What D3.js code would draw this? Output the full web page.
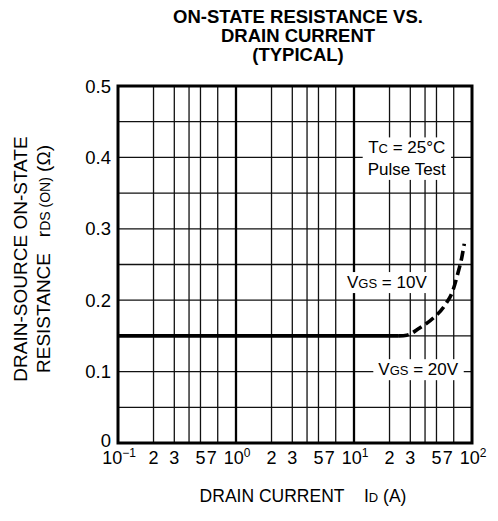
<!DOCTYPE html>
<html>
<head>
<meta charset="utf-8">
<script src="https://cdn.jsdelivr.net/npm/d3@7"></script>
<style>
  body { margin: 0; background: #fff; }
  text { font-family: "Liberation Sans", Arial, Helvetica, sans-serif; fill: #000; }
</style>
</head>
<body>
<div id="chart"></div>
<script>
// values
var currentSolid = [0.1, 24];
var rdsSolid = [0.15, 0.15];
var currentDashed = [24, 28, 36, 47, 59, 69, 76, 82, 86];
var rdsDashed = [0.150, 0.151, 0.161, 0.175, 0.193, 0.214, 0.238, 0.260, 0.279];

var decades = [0.1, 1, 10];
var decadeExp = ["\u22121", "0", "1", "2"];
var xMajor = [0.1, 1, 10, 100];
var xMinorGrid = [2, 3, 4, 5, 7];
var xMinorLabels = [2, 3, 5, 7];
var yTicks = [0, 0.1, 0.2, 0.3, 0.4, 0.5];
var yGrid = [0.05, 0.1, 0.15, 0.2, 0.25, 0.3, 0.35, 0.4, 0.45];

// set the dimensions and margins of the graph
var margin = {top: 86, right: 26, bottom: 78, left: 118},
    width = 498 - margin.left - margin.right,
    height = 521 - margin.top - margin.bottom;

var svg = d3.select("#chart")
  .append("svg")
    .attr("width", 498)
    .attr("height", 521);

var g = svg.append("g")
    .attr("transform", "translate(" + margin.left + "," + margin.top + ")");

var x = d3.scaleLog().domain([0.1, 100]).range([0, width]);
var y = d3.scaleLinear().domain([0, 0.5]).range([height, 0]);

// grid
var minorX = [];
decades.forEach(function(d) {
  xMinorGrid.forEach(function(m) { minorX.push(d * m); });
});

g.append("g").selectAll("line")
  .data(minorX)
  .enter().append("line")
    .attr("x1", function(d) { return x(d); })
    .attr("x2", function(d) { return x(d); })
    .attr("y1", 0).attr("y2", height)
    .attr("stroke", "#111").attr("stroke-width", 1.3);

g.append("g").selectAll("line")
  .data(yGrid)
  .enter().append("line")
    .attr("x1", 0).attr("x2", width)
    .attr("y1", function(d) { return y(d); })
    .attr("y2", function(d) { return y(d); })
    .attr("stroke", "#111").attr("stroke-width", 1.3);

g.append("g").selectAll("line")
  .data([1, 10])
  .enter().append("line")
    .attr("x1", function(d) { return x(d); })
    .attr("x2", function(d) { return x(d); })
    .attr("y1", 0).attr("y2", height)
    .attr("stroke", "#000").attr("stroke-width", 2.3);

// labels on white boxes
function boxedLabel(lines, cx, baseline, lineGap, padX, padY, size) {
  var lg = g.append("g");
  var t = lg.append("text")
      .attr("text-anchor", "middle")
      .style("font-size", size + "px");
  lines.forEach(function(parts, i) {
    parts.forEach(function(p, j) {
      var s = t.append("tspan").text(p[0]);
      if (j == 0) s.attr("x", cx).attr("y", baseline + i * lineGap);
      if (p[1]) s.style("font-size", p[1] + "px");
    });
  });
  var b = t.node().getBBox();
  lg.insert("rect", "text")
    .attr("x", b.x - padX).attr("y", b.y - padY)
    .attr("width", b.width + 2 * padX).attr("height", b.height + 2 * padY)
    .attr("fill", "#fff");
}

boxedLabel([[["T"], ["C", 13], [" = 25\u00b0C"]], [["Pulse Test"]]],
  x(28), y(0.4) - 4, 21.5, 5, 1, 17);
boxedLabel([[["V"], ["GS", 13], [" = 10V"]]], x(19), y(0.217), 0, 3, 1, 17);
boxedLabel([[["V"], ["GS", 13], [" = 20V"]]], x(35), y(0.095), 0, 5, 1, 17);

// curves
var line = d3.line()
  .x(function(d) { return x(d[0]); })
  .y(function(d) { return y(d[1]); })
  .curve(d3.curveMonotoneX);

g.append("path")
  .datum(d3.zip(currentSolid, rdsSolid))
  .attr("d", line)
  .attr("fill", "none").attr("stroke", "#000").attr("stroke-width", 3.6);

g.append("path")
  .datum(d3.zip(currentDashed, rdsDashed))
  .attr("d", line)
  .attr("fill", "none").attr("stroke", "#000").attr("stroke-width", 3.6)
  .attr("stroke-dasharray", "10,5");

// border
g.append("rect")
  .attr("width", width).attr("height", height)
  .attr("fill", "none").attr("stroke", "#000").attr("stroke-width", 3);

// y ticks
g.append("g").selectAll("text")
  .data(yTicks)
  .enter().append("text")
    .attr("x", -7)
    .attr("y", function(d) { return y(d); })
    .attr("dy", function(d) { return d == 0 ? "0.2em" : "0.36em"; })
    .attr("text-anchor", "end")
    .style("font-size", "18.5px")
    .text(function(d) { return d == 0 ? "0" : d3.format(".1f")(d); });

// x ticks
var xt = g.append("g").attr("transform", "translate(0," + (height + 21) + ")");
xMajor.forEach(function(d, i) {
  var t = xt.append("text")
      .attr("x", x(d) + 1)
      .attr("text-anchor", "middle")
      .style("font-size", "18px");
  t.append("tspan").text("10");
  t.append("tspan").text(decadeExp[i])
    .attr("dy", -7).style("font-size", "12px");
});
decades.forEach(function(d) {
  xMinorLabels.forEach(function(m) {
    xt.append("text")
      .attr("x", x(d * m) + (m == 7 ? -6 : 0))
      .attr("text-anchor", "middle")
      .style("font-size", "18px")
      .text(m);
  });
});

// title
var title = ["ON-STATE RESISTANCE VS.", "DRAIN CURRENT", "(TYPICAL)"];
title.forEach(function(s, i) {
  svg.append("text")
    .attr("x", 298).attr("y", 23 + i * 19)
    .attr("text-anchor", "middle")
    .style("font-size", "18.5px").style("font-weight", "bold")
    .text(s);
});

// x axis label
var xl = svg.append("text")
  .attr("x", 303).attr("y", 502)
  .attr("text-anchor", "middle")
  .style("font-size", "17.5px");
xl.append("tspan").text("DRAIN CURRENT\u00a0\u00a0\u00a0\u00a0I");
xl.append("tspan").text("D").style("font-size", "13px");
xl.append("tspan").text(" (A)");

// y axis label
var yl = svg.append("g").attr("transform", "translate(0,259) rotate(-90)");
yl.append("text")
  .attr("x", 0).attr("y", 27)
  .attr("text-anchor", "middle")
  .style("font-size", "19px")
  .text("DRAIN-SOURCE ON-STATE");
var yl2 = yl.append("text")
  .attr("x", 0).attr("y", 50)
  .attr("text-anchor", "middle")
  .style("font-size", "19px");
yl2.append("tspan").text("RESISTANCE\u00a0\u00a0\u00a0r");
yl2.append("tspan").text("DS (ON)").style("font-size", "14px");
yl2.append("tspan").text(" (\u03a9)");
</script>
</body>
</html>
